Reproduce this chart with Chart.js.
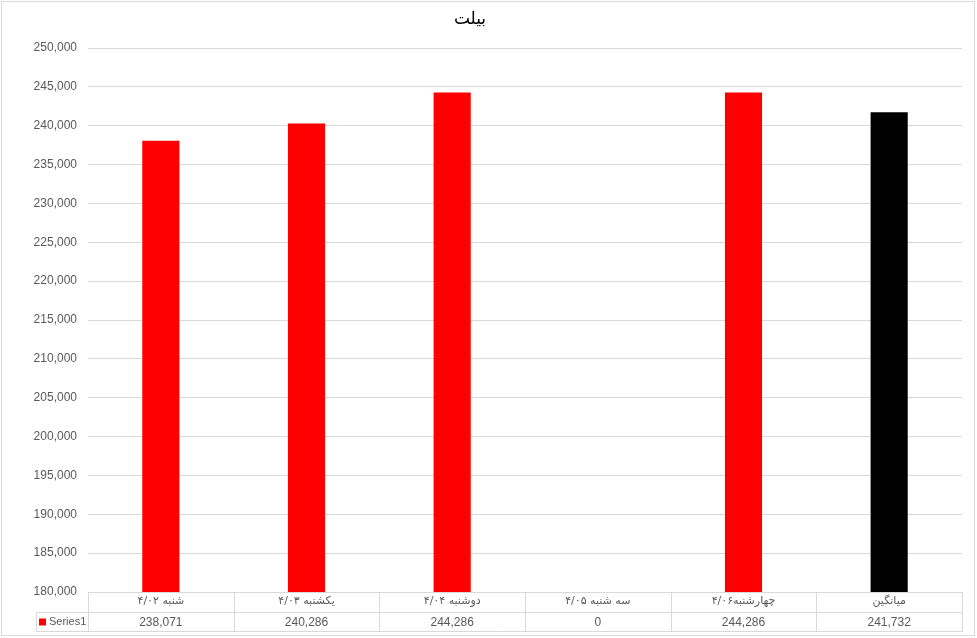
<!DOCTYPE html>
<html>
<head>
<meta charset="utf-8">
<script src="https://cdn.jsdelivr.net/npm/chart.js@4"></script>
<style>
  html, body { margin: 0; padding: 0; background: #fff; }
  #wrap { width: 977px; height: 638px; }
</style>
</head>
<body>
<div id="wrap"><canvas id="chart"></canvas></div>
<script>
const chartTitle = 'بیلت';
const categories = ['شنبه ۴/۰۲', 'یکشنبه ۴/۰۳', 'دوشنبه ۴/۰۴', 'سه شنبه ۴/۰۵', 'چهارشنبه۴/۰۶', 'میانگین'];
const seriesName = 'Series1';
const values = [238071, 240286, 244286, 0, 244286, 241732];
const barColors = ['#ff0000', '#ff0000', '#ff0000', '#ff0000', '#ff0000', '#000000'];
const yMin = 180000;
const yMax = 250000;
const yStep = 5000;

const gridColor = '#d9d9d9';
const textColor = '#595959';
const fontFamily = '"Liberation Sans", "DejaVu Sans", sans-serif';
const arabicFont = '"DejaVu Sans", sans-serif';

// frame, title and the data table under the plot
const extras = {
  id: 'extras',
  afterDraw(chart) {
    const ctx = chart.ctx;
    const area = chart.chartArea;
    const xs = chart.scales.x;
    const n = categories.length;
    const colW = (area.right - area.left) / n;
    const top = Math.round(area.bottom) + 0.5;
    const mid = top + 20;
    const bot = mid + 19;
    const legLeft = 36.5;

    ctx.save();
    // outer frame
    ctx.strokeStyle = gridColor;
    ctx.lineWidth = 1;
    ctx.strokeRect(1.5, 1.5, 973, 634);

    // table lines
    ctx.beginPath();
    ctx.moveTo(legLeft, mid); ctx.lineTo(area.right, mid);
    ctx.moveTo(legLeft, bot); ctx.lineTo(area.right, bot);
    ctx.moveTo(legLeft, mid); ctx.lineTo(legLeft, bot);
    for (let i = 0; i <= n; i++) {
      const x = Math.round(area.left + i * colW) + 0.5;
      ctx.moveTo(x, top); ctx.lineTo(x, bot);
    }
    ctx.stroke();

    // legend key
    ctx.fillStyle = '#ff0000';
    ctx.fillRect(39, mid + 6, 7, 7);
    ctx.fillStyle = textColor;
    ctx.font = '11px ' + fontFamily;
    ctx.textBaseline = 'middle';
    ctx.textAlign = 'left';
    ctx.fillText(seriesName, 49, (mid + bot) / 2);

    // values row
    ctx.textAlign = 'center';
    ctx.font = '12px ' + fontFamily;
    values.forEach((v, i) => {
      ctx.fillText(v.toLocaleString('en-US'), xs.getPixelForValue(i), (mid + bot) / 2 + 1);
    });

    // title
    ctx.fillStyle = '#000';
    ctx.font = '17px ' + arabicFont;
    ctx.fillText(chartTitle, 470, 20);
    ctx.restore();
  }
};

new Chart(document.getElementById('chart'), {
  type: 'bar',
  data: {
    labels: categories,
    datasets: [
      {
        label: seriesName,
        data: values,
        backgroundColor: barColors,
        borderWidth: 0,
        categoryPercentage: 1,
        barPercentage: 0.255,
      },
    ],
  },
  options: {
    responsive: true,
    maintainAspectRatio: false,
    animation: false,
    layout: { padding: { top: 48, right: 15, bottom: 6, left: 0 } },
    plugins: {
      legend: { display: false },
      title: { display: false },
      tooltip: { enabled: false },
    },
    scales: {
      x: {
        grid: { display: false, drawTicks: false },
        border: { color: gridColor },
        ticks: { color: textColor, font: { family: arabicFont, size: 11 }, padding: 3, maxRotation: 0, autoSkip: false },
        afterFit(scale) { scale.height = 40; },
      },
      y: {
        min: yMin,
        max: yMax,
        ticks: {
          stepSize: yStep,
          color: textColor,
          font: { family: fontFamily, size: 12 },
          padding: 11,
          callback: (v) => v.toLocaleString('en-US'),
        },
        grid: { color: gridColor, drawTicks: false },
        border: { display: false },
        afterFit(scale) { scale.width = 88; },
      },
    },
  },
  plugins: [extras],
});
</script>
</body>
</html>
